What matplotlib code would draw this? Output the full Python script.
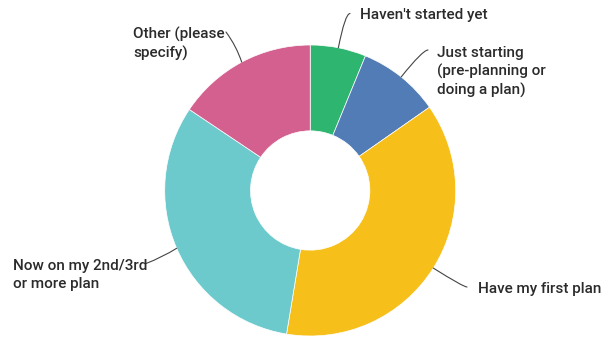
import matplotlib
matplotlib.use("Agg")
import matplotlib.pyplot as plt
import numpy as np

labels = ["Haven't started yet", "Just starting\n(pre-planning or\ndoing a plan)",
          "Have my first plan", "Now on my 2nd/3rd\nor more plan", "Other (please\nspecify)"]
values = [6.2, 9.1, 37.3, 31.8, 15.6]
colors = ["#2eb671", "#527cb5", "#f6bf19", "#6dcacc", "#d3608f"]

W, H = 602, 338
fig = plt.figure(figsize=(W / 100, H / 100), dpi=100)
ax = fig.add_axes([0, 0, 1, 1])

cx, cy, R = 310.2, H - 190.5, 145.5
wedges, _ = ax.pie(values, colors=colors, startangle=90, counterclock=False,
                   radius=R, center=(cx, cy),
                   wedgeprops=dict(width=R * 0.59, edgecolor="white", linewidth=0.5))
ax.set_xlim(0, W)
ax.set_ylim(0, H)
ax.set_aspect("equal")
ax.axis("off")

# layout: line end (px, y down), text position (px), ha
layout = [
    ((350, 13.5), (360, 15), "left", "angle3,angleA=0,angleB={a}"),
    ((428, 50), (437, 72), "left", "angle3,angleA=0,angleB={a}"),
    ((467, 287), (478, 289), "left", "angle3,angleA=0,angleB={a}"),
    ((146, 263.5), (13, 275), "left", "arc3,rad=0.05"),
    ((226, 32), (133, 44), "left", "arc3,rad=-0.08"),
]
txtkw = dict(fontsize=11, color="#2b2b2b", family=["Roboto", "DejaVu Sans"],
             fontweight="medium", linespacing=1.34)
for w, lab, (lend, tpos, ha, cs) in zip(wedges, labels, layout):
    mid = np.deg2rad((w.theta1 + w.theta2) / 2)
    px, py = cx + R * np.cos(mid), cy + R * np.sin(mid)
    a = np.rad2deg(mid)
    ax.annotate("", xy=(px, py), xytext=(lend[0], H - lend[1]),
                arrowprops=dict(arrowstyle="-", color="#444444", lw=0.8,
                                shrinkA=0, shrinkB=0,
                                connectionstyle=cs.format(a=round(a, 1))))
    ax.text(tpos[0], H - tpos[1], lab, ha=ha, va="center", **txtkw)

fig.savefig("out.png", dpi=100)
